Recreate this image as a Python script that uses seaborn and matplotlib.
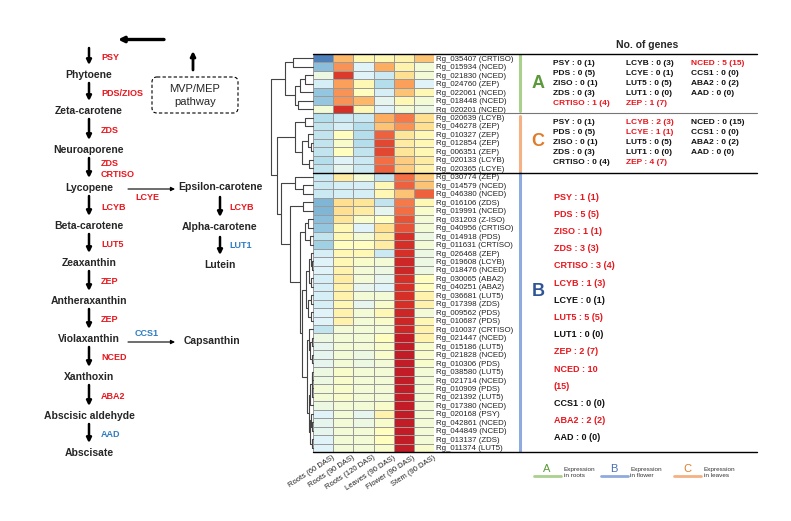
import numpy as np
import pandas as pd
import seaborn as sns
import matplotlib.pyplot as plt
from matplotlib.patches import FancyBboxPatch

# ---- data ----
samples = ["Roots (60 DAS)", "Roots (90 DAS)", "Roots (120 DAS)",
           "Leaves (90 DAS)", "Flower (90 DAS)", "Stem (90 DAS)"]

genes_A = ["Rg_035407 (CRTISO)", "Rg_015934 (NCED)", "Rg_021830 (NCED)", "Rg_024760 (ZEP)",
           "Rg_022061 (NCED)", "Rg_018448 (NCED)", "Rg_020201 (NCED)"]
genes_C = ["Rg_020639 (LCYB)", "Rg_046278 (ZEP)", "Rg_010327 (ZEP)", "Rg_012854 (ZEP)",
           "Rg_006351 (ZEP)", "Rg_020133 (LCYB)", "Rg_020365 (LCYE)"]
genes_B = ["Rg_030774 (ZEP)", "Rg_014579 (NCED)", "Rg_046380 (NCED)", "Rg_016106 (ZDS)",
           "Rg_019991 (NCED)", "Rg_031203 (Z-ISO)", "Rg_040956 (CRTISO)", "Rg_014918 (PDS)",
           "Rg_011631 (CRTISO)", "Rg_026468 (ZEP)", "Rg_019608 (LCYB)", "Rg_018476 (NCED)",
           "Rg_030065 (ABA2)", "Rg_040251 (ABA2)", "Rg_036681 (LUT5)", "Rg_017398 (ZDS)",
           "Rg_009562 (PDS)", "Rg_010687 (PDS)", "Rg_010037 (CRTISO)", "Rg_021447 (NCED)",
           "Rg_015186 (LUT5)", "Rg_021828 (NCED)", "Rg_010306 (PDS)", "Rg_038580 (LUT5)",
           "Rg_021714 (NCED)", "Rg_010909 (PDS)", "Rg_021392 (LUT5)", "Rg_017380 (NCED)",
           "Rg_020168 (PSY)", "Rg_042861 (NCED)", "Rg_044849 (NCED)", "Rg_013137 (ZDS)",
           "Rg_011374 (LUT5)"]

# row z-scores
expr_A = [[-1.9, 0.9, 0.1, 0.1, 0.2, 0.8],
          [-1.3, 1.2, -0.5, 1.0, 0.2, -0.2],
          [-0.3, 1.9, -0.5, -0.7, 0.5, -0.2],
          [-0.6, 1.1, 0.1, -0.9, 1.1, -0.5],
          [-1.2, 1.2, 0.0, -0.6, 0.8, 0.1],
          [-1.2, 1.2, 0.9, -0.4, 0.1, -0.2],
          [-0.2, 2.0, 0.1, -0.5, -0.2, -0.3]]
expr_C = [[-0.9, -0.7, -0.7, 1.0, 1.4, 0.5],
          [-0.8, -0.6, -0.9, 0.8, 1.2, 0.5],
          [-0.8, 0.0, -0.9, 1.6, 0.4, 0.1],
          [-0.8, -0.1, -0.9, 1.8, 0.3, 0.1],
          [-0.8, 0.0, -0.8, 1.8, 0.4, 0.1],
          [-0.9, -0.5, -0.7, 1.5, 0.7, 0.3],
          [-0.8, -0.4, -0.7, 1.6, 0.7, 0.2]]
expr_B = [[-0.7, 0.3, -0.2, -0.8, 1.5, 0.7],
          [-0.7, -0.6, -0.6, 0.1, 1.6, 0.8],
          [-0.7, -0.6, -0.6, 0.1, 0.8, 1.6],
          [-1.4, 0.5, 0.4, -0.8, 1.4, 0.1],
          [-1.4, 0.5, 0.3, -0.4, 1.5, -0.1],
          [-1.3, 0.4, -0.1, 0.0, 1.7, -0.2],
          [-1.2, 0.1, -0.5, 0.5, 1.7, -0.2],
          [-0.8, 0.1, -0.2, 0.3, 2.0, -0.3],
          [-1.1, 0.0, 0.0, 0.3, 2.0, -0.2],
          [-0.6, 0.1, 0.1, -0.7, 2.0, -0.3],
          [-0.5, 0.1, -0.1, -0.2, 2.1, -0.3],
          [-0.5, 0.2, -0.2, -0.3, 2.1, -0.3],
          [-0.6, 0.3, -0.2, -0.4, 2.0, 0.0],
          [-0.6, 0.2, -0.4, -0.5, 2.0, 0.0],
          [-0.6, 0.2, -0.2, -0.2, 2.0, 0.2],
          [-0.6, 0.1, -0.4, -0.1, 2.0, 0.2],
          [-0.5, 0.2, -0.2, 0.1, 2.1, -0.2],
          [-0.5, 0.2, -0.2, -0.1, 2.1, 0.1],
          [-0.8, -0.2, -0.2, -0.2, 2.1, 0.2],
          [-0.3, -0.2, -0.2, 0.0, 2.2, 0.2],
          [-0.4, -0.2, -0.2, -0.1, 2.2, -0.1],
          [-0.4, -0.2, -0.3, -0.1, 2.2, -0.1],
          [-0.4, -0.2, -0.3, -0.2, 2.2, -0.1],
          [-0.3, -0.1, -0.2, -0.2, 2.2, -0.2],
          [-0.3, -0.1, -0.2, -0.2, 2.2, -0.2],
          [-0.2, -0.1, -0.2, -0.2, 2.2, -0.2],
          [-0.2, -0.1, -0.2, -0.2, 2.2, -0.2],
          [-0.3, -0.2, -0.2, -0.1, 2.2, -0.2],
          [-0.5, -0.2, -0.4, 0.2, 2.2, -0.2],
          [-0.4, -0.2, -0.3, -0.1, 2.2, -0.2],
          [-0.4, -0.2, -0.2, 0.0, 2.2, -0.2],
          [-0.5, -0.2, -0.2, 0.0, 2.2, -0.2],
          [-0.5, -0.2, -0.2, -0.1, 2.2, -0.1]]

# row dendrogram: [height, left, right], leaves are row numbers
tree_A = [0.66, [0.48, 0, 1], [0.42, [0.3, [0.2, 2, 3], 4], [0.36, 5, 6]]]
tree_C = [0.43, [0.2, 7, 8], [0.25, [0.12, 9, [0.05, 10, 11]], [0.1, 12, 13]]]
tree_B = [0.76, [0.43, 14, [0.24, 15, 16]],
          [0.55, [0.24, 17, 18],
           [0.3, [0.2, [0.12, 19, 20], [0.07, 21, 22]],
            [0.25,
             [0.16, [0.1, [0.05, 23, [0.03, 24, 25]], [0.04, 26, 27]],
              [0.12, [0.05, 28, 29], [0.04, 30, 31]]],
             [0.14, [0.09, 32, [0.06, [0.03, 33, 34], [0.025, 35, 36]]],
              [0.1, [0.07, [0.03, [0.02, 37, 38], [0.02, 39, 40]], 41],
               [0.08, [0.05, 42, [0.03, 43, 44]], [0.03, 45, 46]]]]]]]]
tree_all = [1.0, tree_A, [0.85, tree_C, tree_B]]

# pathway
main_chain = ["Phytoene", "Zeta-carotene", "Neuroaporene", "Lycopene", "Beta-carotene",
              "Zeaxanthin", "Antheraxanthin", "Violaxanthin", "Xanthoxin",
              "Abscisic aldehyde", "Abscisate"]
main_enzymes = ["PSY", "PDS/ZIOS", "ZDS", "ZDS\nCRTISO", "LCYB", "LUT5", "ZEP", "ZEP",
                "NCED", "ABA2", "AAD"]
side_chain = ["Epsilon-carotene", "Alpha-carotene", "Lutein"]
side_enzymes = ["LCYB", "LUT1"]
blue_enzymes = ["LUT1", "CCS1", "AAD"]

# gene counts per cluster
table_A = [["PSY : 0 (1)", "PDS : 0 (5)", "ZISO : 0 (1)", "ZDS : 0 (3)", "CRTISO : 1 (4)"],
           ["LCYB : 0 (3)", "LCYE : 0 (1)", "LUT5 : 0 (5)", "LUT1 : 0 (0)", "ZEP : 1 (7)"],
           ["NCED : 5 (15)", "CCS1 : 0 (0)", "ABA2 : 0 (2)", "AAD : 0 (0)"]]
table_C = [["PSY : 0 (1)", "PDS : 0 (5)", "ZISO : 0 (1)", "ZDS : 0 (3)", "CRTISO : 0 (4)"],
           ["LCYB : 2 (3)", "LCYE : 1 (1)", "LUT5 : 0 (5)", "LUT1 : 0 (0)", "ZEP : 4 (7)"],
           ["NCED : 0 (15)", "CCS1 : 0 (0)", "ABA2 : 0 (2)", "AAD : 0 (0)"]]
list_B = ["PSY : 1 (1)", "PDS : 5 (5)", "ZISO : 1 (1)", "ZDS : 3 (3)", "CRTISO : 3 (4)",
          "LCYB : 1 (3)", "LCYE : 0 (1)", "LUT5 : 5 (5)", "LUT1 : 0 (0)", "ZEP : 2 (7)",
          "NCED : 10", "(15)", "CCS1 : 0 (0)", "ABA2 : 2 (2)", "AAD : 0 (0)"]

RED = "#e8161d"
BLUE_T = "#2f7dc1"


def count_color(s):
    if s.startswith("("):
        return RED
    n = int(s.split(":")[1].split("(")[0])
    return RED if n > 0 else "#111111"


sns.set_style("white")
plt.rcParams["font.family"] = ["Liberation Sans", "DejaVu Sans"]

W, H = 791, 521
fig = plt.figure(figsize=(W / 100, H / 100), dpi=100)

# heatmap
hm_l, hm_r, hm_t, hm_b = 313, 434, 54, 452
ax_hm = fig.add_axes([hm_l / W, 1 - hm_b / H, (hm_r - hm_l) / W, (hm_b - hm_t) / H])
df = pd.DataFrame(expr_A + expr_C + expr_B, index=genes_A + genes_C + genes_B, columns=samples)
sns.heatmap(df, ax=ax_hm, cmap="RdYlBu_r", vmin=-2.5, vmax=2.5, cbar=False,
            linewidths=0.6, linecolor="#9a9a9a", xticklabels=False, yticklabels=True)
ax_hm.set_xlabel("")
ax_hm.set_ylabel("")
ax_hm.yaxis.tick_right()
ax_hm.tick_params(axis="y", length=0, pad=1.5, labelsize=5.7, labelright=True, labelleft=False)
for lab in ax_hm.get_yticklabels():
    lab.set_rotation(0)
    lab.set_color("#222222")
nrow = len(df)
for i, s in enumerate(samples):
    ax_hm.text(i + 0.95, nrow + 0.25, s, rotation=33, rotation_mode="anchor",
               ha="right", va="top", fontsize=5.5, color="#222222")

# separators across heatmap and tables
xmax = (757 - hm_l) / (hm_r - hm_l)
for yb, col, lw in [(0, "black", 1.0), (len(genes_A), "#777777", 0.8),
                    (len(genes_A) + len(genes_C), "black", 1.0), (nrow, "black", 1.0)]:
    ax_hm.axhline(yb, xmin=0, xmax=xmax, color=col, lw=lw, clip_on=False, zorder=5)

# cluster bars
bar_x = (520 - hm_l) / (hm_r - hm_l)
ytr = ax_hm.get_yaxis_transform()
n_a, n_c = len(genes_A), len(genes_C)
for y0, y1, col in [(0.15, n_a - 0.3, "#a9d18e"), (n_a + 0.3, n_a + n_c - 0.1, "#f4b183"),
                    (n_a + n_c + 0.1, nrow - 0.1, "#8faadc")]:
    ax_hm.plot([bar_x, bar_x], [y0, y1], transform=ytr, color=col, lw=2.2, clip_on=False)

# dendrogram
ax_d = fig.add_axes([270.7 / W, 1 - hm_b / H, (hm_l - 270.7) / W, (hm_b - hm_t) / H])


def draw_tree(ax, node):
    if isinstance(node, int):
        return 0.0, node + 0.5
    h, left, right = node
    hl, yl = draw_tree(ax, left)
    hr, yr = draw_tree(ax, right)
    ax.plot([hl, h, h, hr], [yl, yl, yr, yr], color="#444444", lw=0.8, clip_on=False)
    return h, (yl + yr) / 2


draw_tree(ax_d, tree_all)
ax_d.set_xlim(1.0, 0)
ax_d.set_ylim(nrow, 0)
ax_d.axis("off")

# overlay for pathway and tables
ax0 = fig.add_axes([0, 0, 1, 1], zorder=10)
ax0.patch.set_alpha(0)
ax0.set_xlim(0, W)
ax0.set_ylim(H, 0)
ax0.axis("off")


def arrow(x0, y0, x1, y1, lw=1.8, ms=7):
    ax0.annotate("", xy=(x1, y1), xytext=(x0, y0),
                 arrowprops=dict(arrowstyle="-|>", color="black", lw=lw, mutation_scale=ms,
                                 shrinkA=0, shrinkB=0))


# top of pathway
arrow(164, 39.5, 118, 39.5, lw=2.4, ms=8)
arrow(193, 70, 193, 51, lw=2.0, ms=7)
ax0.add_patch(FancyBboxPatch((152, 77), 86, 36, boxstyle="round,pad=0,rounding_size=5",
                             fill=False, ls=(0, (3, 2)), lw=0.8, ec="black"))
ax0.text(195, 89, "MVP/MEP", ha="center", va="center", fontsize=8)
ax0.text(195, 102, "pathway", ha="center", va="center", fontsize=8)

mx = 89
main_y = [75, 111, 150, 188, 226, 263, 301, 339, 377, 416, 453]
prev = 40
for name, enz, y in zip(main_chain, main_enzymes, main_y):
    y0, y1 = prev + 8, y - 10
    arrow(mx, y0, mx, y1)
    ax0.text(101, (y0 + y1) / 2 + 1, enz, ha="left", va="center", fontsize=6.5,
             fontweight="bold", color=BLUE_T if enz in blue_enzymes else RED, linespacing=1.15)
    ax0.text(mx, y, name, ha="center", va="center", fontsize=7.5, fontweight="bold")
    prev = y

sx = 220
side_y = [187, 227, 265]
for i, (name, y) in enumerate(zip(side_chain, side_y)):
    ax0.text(sx, y, name, ha="center", va="center", fontsize=7.5, fontweight="bold")
    if i > 0:
        y0, y1 = side_y[i - 1] + 10, y - 10
        arrow(sx, y0, sx, y1)
        enz = side_enzymes[i - 1]
        ax0.text(229, (y0 + y1) / 2, enz, ha="left", va="center", fontsize=6.5,
                 fontweight="bold", color=BLUE_T if enz in blue_enzymes else RED)

arrow(128, 189, 175, 189, lw=0.8, ms=6)
ax0.text(147, 198, "LCYE", ha="center", va="center", fontsize=6.5, fontweight="bold", color=RED)
arrow(128, 342, 175, 342, lw=0.8, ms=6)
ax0.text(147, 333, "CCS1", ha="center", va="center", fontsize=6.5, fontweight="bold", color=BLUE_T)
ax0.text(212, 341, "Capsanthin", ha="center", va="center", fontsize=7.5, fontweight="bold")

# tables
ax0.text(647, 45, "No. of genes", ha="center", va="center", fontsize=7.5, fontweight="bold")
col_x = [553, 626, 691]
for table, y_top, letter, lcol in [(table_A, 63.5, "A", "#5b9a3a"), (table_C, 122, "C", "#e07b2a")]:
    for cx, col in zip(col_x, table):
        for k, s in enumerate(col):
            ax0.text(cx, y_top + 10 * k, s, ha="left", va="center", fontsize=6,
                     fontweight="bold", color=count_color(s))
    ax0.text(538, y_top + 20, letter, ha="center", va="center", fontsize=13,
             fontweight="bold", color=lcol)
ax0.text(538, 292, "B", ha="center", va="center", fontsize=13, fontweight="bold", color="#2f5597")
for k, s in enumerate(list_B):
    ax0.text(554, 197 + 17.2 * k, s, ha="left", va="center", fontsize=6.5,
             fontweight="bold", color=count_color(s))

# legend
for lx, letter, col, lcol, tissue in [(547, "A", "#a9d18e", "#5b9a3a", "roots"),
                                      (614, "B", "#8faadc", "#4a6fb5", "flower"),
                                      (687, "C", "#f4b183", "#e07b2a", "leaves")]:
    ax0.text(lx, 469.5, letter, ha="center", va="center", fontsize=8, color=lcol)
    ax0.plot([lx - 13.5, lx + 13.5], [476, 476], color=col, lw=2)
    ax0.text(lx + 16.5, 472.5, "Expression\nin " + tissue, ha="left", va="center",
             fontsize=4.6, color="#333333", linespacing=1.15)

fig.savefig("out.png", dpi=100)
